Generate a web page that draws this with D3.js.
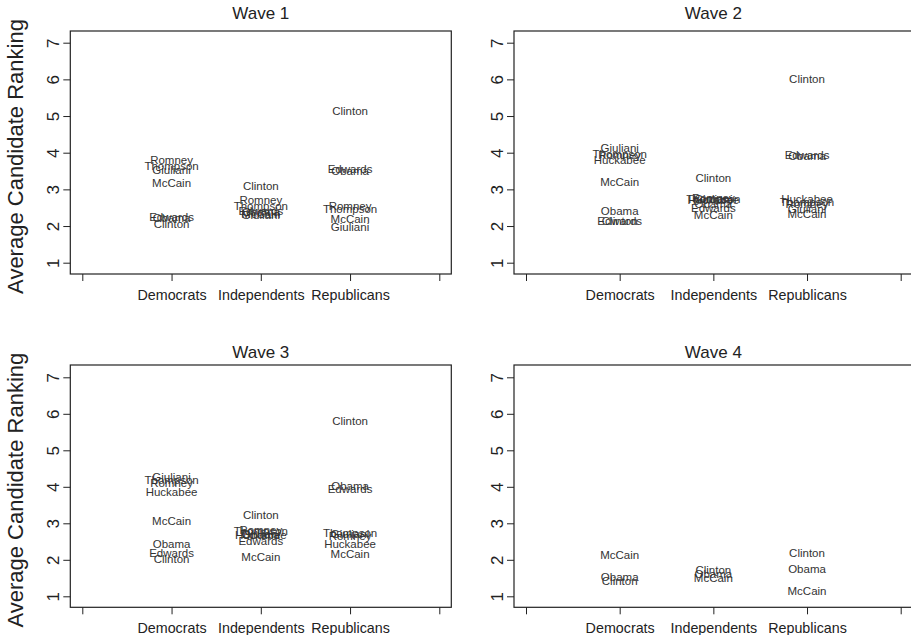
<!DOCTYPE html>
<html>
<head>
<meta charset="utf-8">
<title>Average Candidate Ranking by Wave</title>
<script src="https://cdn.jsdelivr.net/npm/d3@7"></script>
<style>
  body { margin: 0; background: #fff; }
  svg text { font-family: "Liberation Sans", Arial, Helvetica, sans-serif; fill: #222; }
</style>
</head>
<body>
<script>
// data
var parties = ["Democrats", "Independents", "Republicans"];
var xTickLabels = ["", "Democrats", "Independents", "Republicans", ""];
var yTicks = [1, 2, 3, 4, 5, 6, 7];
var waveTitles = ["Wave 1", "Wave 2", "Wave 3", "Wave 4"];

var wave1Names = ["Clinton", "Obama", "Edwards", "Giuliani", "McCain", "Romney", "Thompson"];
var wave1Dem   = [2.06, 2.24, 2.27, 3.55, 3.18, 3.82, 3.64];
var wave1Ind   = [3.09, 2.39, 2.42, 2.30, 2.35, 2.71, 2.55];
var wave1Rep   = [5.14, 3.50, 3.57, 1.98, 2.19, 2.55, 2.48];

var wave2Names = ["Clinton", "Obama", "Edwards", "Giuliani", "McCain", "Romney", "Thompson", "Huckabee"];
var wave2Dem   = [2.16, 2.42, 2.16, 4.15, 3.21, 3.96, 3.98, 3.80];
var wave2Ind   = [3.32, 2.62, 2.50, 2.74, 2.30, 2.78, 2.76, 2.73];
var wave2Rep   = [6.03, 3.91, 3.94, 2.48, 2.33, 2.62, 2.66, 2.76];

var wave3Names = ["Clinton", "Obama", "Edwards", "Giuliani", "McCain", "Romney", "Thompson", "Huckabee"];
var wave3Dem   = [2.02, 2.43, 2.21, 4.28, 3.07, 4.11, 4.19, 3.88];
var wave3Ind   = [3.25, 2.68, 2.52, 2.72, 2.10, 2.82, 2.80, 2.70];
var wave3Rep   = [5.81, 4.03, 3.94, 2.73, 2.16, 2.66, 2.74, 2.45];

var wave4Names = ["Clinton", "Obama", "McCain"];
var wave4Dem   = [1.42, 1.54, 2.13];
var wave4Ind   = [1.72, 1.61, 1.51];
var wave4Rep   = [2.21, 1.77, 1.15];

var waves = [
  {names: wave1Names, vals: [wave1Dem, wave1Ind, wave1Rep]},
  {names: wave2Names, vals: [wave2Dem, wave2Ind, wave2Rep]},
  {names: wave3Names, vals: [wave3Dem, wave3Ind, wave3Rep]},
  {names: wave4Names, vals: [wave4Dem, wave4Ind, wave4Rep]}
];

// panel geometry (pixels): position of x ticks 0 and 4, y ticks 1 and 7
var panels = [
  {x0: 82.3, x4: 439.3, y1: 262.7, y7: 42.7, top: 31, bottom: 274, titleY: 19},
  {x0: 526,  x4: 900.7, y1: 262.7, y7: 42.7, top: 31, bottom: 274, titleY: 19},
  {x0: 82.3, x4: 439.3, y1: 596.3, y7: 377.3, top: 365, bottom: 607.3, titleY: 358},
  {x0: 526,  x4: 900.7, y1: 596.3, y7: 377.3, top: 365, bottom: 607.3, titleY: 358}
];

var svg = d3.select("body").append("svg")
  .attr("width", 911)
  .attr("height", 635);

panels.forEach(function(p, i) {
  var xScale = d3.scaleLinear().domain([0, 4]).range([p.x0, p.x4]);
  var yScale = d3.scaleLinear().domain([1, 7]).range([p.y1, p.y7]);
  var left = p.x0 - 12, right = p.x4 + 12;

  var g = svg.append("g");

  // box
  g.append("rect")
    .attr("x", left).attr("y", p.top)
    .attr("width", right - left).attr("height", p.bottom - p.top)
    .attr("fill", "none").attr("stroke", "#222").attr("stroke-width", 1.2);

  // y axis
  var yAxis = g.append("g")
    .attr("transform", "translate(" + left + ",0)")
    .call(d3.axisLeft(yScale).tickValues(yTicks).tickSize(7).tickFormat(d3.format("d")));
  yAxis.select(".domain").remove();
  yAxis.selectAll("line").attr("stroke", "#222");
  yAxis.selectAll("text")
    .attr("transform", "rotate(-90)")
    .attr("x", 0).attr("y", -11).attr("dy", 0)
    .attr("text-anchor", "middle")
    .style("font-size", "17px")
    .style("fill", "#222");

  // x axis
  var xAxis = g.append("g")
    .attr("transform", "translate(0," + p.bottom + ")")
    .call(d3.axisBottom(xScale).tickValues([0, 1, 2, 3, 4]).tickSize(7)
      .tickFormat(function(d) { return xTickLabels[d]; }));
  xAxis.select(".domain").remove();
  xAxis.selectAll("line").attr("stroke", "#222");
  xAxis.selectAll("text")
    .attr("y", 26).attr("dy", 0)
    .style("font-size", "14.3px")
    .style("fill", "#222");

  // title
  g.append("text")
    .attr("x", (left + right) / 2)
    .attr("y", p.titleY)
    .attr("text-anchor", "middle")
    .style("font-size", "17px")
    .text(waveTitles[i]);

  // y label on left column
  if (i % 2 === 0) {
    g.append("text")
      .attr("transform", "translate(23," + ((p.top + p.bottom) / 2 + 4) + ") rotate(-90)")
      .attr("text-anchor", "middle")
      .style("font-size", "22px")
      .text("Average Candidate Ranking");
  }

  // candidate labels
  var w = waves[i];
  var pts = [];
  parties.forEach(function(party, j) {
    w.names.forEach(function(name, k) {
      pts.push({name: name, party: j + 1, value: w.vals[j][k]});
    });
  });

  g.selectAll(".cand")
    .data(pts)
    .enter()
    .append("text")
    .attr("class", "cand")
    .attr("x", function(d) { return xScale(d.party); })
    .attr("y", function(d) { return yScale(d.value); })
    .attr("dy", "0.38em")
    .attr("text-anchor", "middle")
    .style("font-size", "11.5px")
    .style("fill", "#333")
    .text(function(d) { return d.name; });
});
</script>
</body>
</html>
